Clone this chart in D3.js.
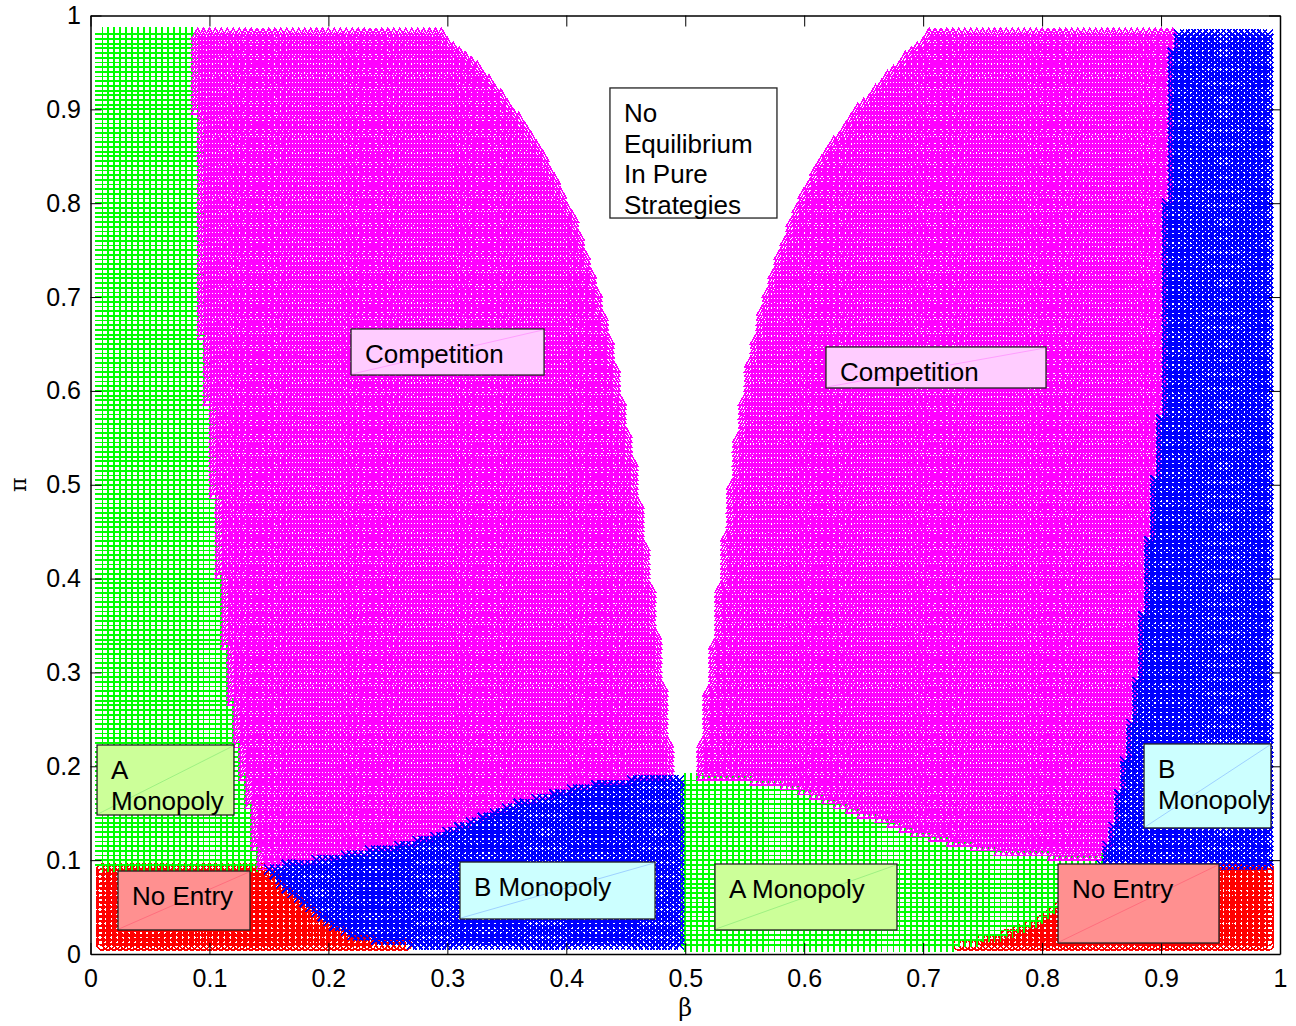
<!DOCTYPE html>
<html><head><meta charset="utf-8">
<script src="https://cdn.jsdelivr.net/npm/d3@7"></script>
<style>body{margin:0;background:#fff}svg{display:block}</style>
</head><body>
<svg id="chart" width="1296" height="1026"></svg>
<script>
// ---------------- DATA ----------------
// parameter grid of the computation (beta, pi)
const betaGridStart = 0.01, betaGridEnd = 0.99, gridStep = 0.005;
const piGridStart = 0.01, piGridEnd = 0.98;

// left "Competition" region, outer edge (pi, beta)
const compLeftOuter = [[0.99,0.087],[0.9,0.090],[0.8,0.092],[0.7,0.094],[0.612,0.096],[0.58,0.101],[0.465,0.106],[0.375,0.112],[0.31,0.116],[0.257,0.121],[0.221,0.125],[0.178,0.131],[0.15,0.136],[0.114,0.140],[0.097,0.143]];
// left "Competition" region, inner edge (pi, beta)
const compLeftInner = [[0.99,0.286],[0.948,0.324],[0.895,0.358],[0.842,0.384],[0.789,0.404],[0.736,0.418],[0.683,0.430],[0.63,0.440],[0.577,0.447],[0.523,0.456],[0.471,0.461],[0.418,0.467],[0.365,0.473],[0.312,0.478],[0.259,0.482],[0.206,0.487],[0.188,0.490]];
// right "Competition" region, inner edge (pi, beta)
const compRightInner = [[0.99,0.713],[0.948,0.679],[0.895,0.641],[0.842,0.612],[0.789,0.592],[0.736,0.577],[0.683,0.564],[0.63,0.555],[0.577,0.548],[0.523,0.542],[0.471,0.537],[0.418,0.532],[0.365,0.528],[0.312,0.523],[0.259,0.518],[0.206,0.513],[0.188,0.512]];
// right "Competition" region, outer edge (pi, beta)
const compRightOuter = [[0.99,0.912],[0.95,0.909],[0.9,0.906],[0.8,0.905],[0.7,0.904],[0.61,0.903],[0.47,0.892],[0.38,0.886],[0.31,0.882],[0.257,0.876],[0.185,0.867],[0.132,0.859],[0.103,0.851]];
// top of the lower "B Monopoly" region (beta, pi)
const blueLeftTop = [[0.143,0.095],[0.151,0.092],[0.27,0.118],[0.31,0.135],[0.36,0.16],[0.41,0.178],[0.45,0.185],[0.49,0.188]];
// top of the lower "A Monopoly" region (beta, pi)
const greenMidTop = [[0.512,0.19],[0.546,0.188],[0.56,0.185],[0.59,0.178],[0.638,0.155],[0.68,0.136],[0.714,0.122],[0.765,0.109],[0.807,0.105],[0.851,0.103]];
// "No Entry" edges (beta, pi)
const redLeftEdge = [[0.145,0.0925],[0.151,0.086],[0.159,0.076],[0.173,0.058],[0.187,0.044],[0.2035,0.029],[0.22,0.02],[0.243,0.014],[0.265,0.0125],[0.27,-0.01]];
const redRightEdge = [[0.725,-0.01],[0.73,0.0125],[0.765,0.0175],[0.79,0.03],[0.81,0.045],[0.828,0.063],[0.84,0.08],[0.848,0.0925]];
const noEntryTop = 0.0925;
const splitBeta = 0.4975;

// ticks
const tickValues = [0,0.1,0.2,0.3,0.4,0.5,0.6,0.7,0.8,0.9,1];
const tickLabels = ["0","0.1","0.2","0.3","0.4","0.5","0.6","0.7","0.8","0.9","1"];
const xLabel = "β", yLabel = "π";

// annotation texts
const annotationTexts = [
  ["Competition"], ["Competition"], ["No","Equilibrium","In Pure","Strategies"],
  ["A","Monopoly"], ["B","Monopoly"], ["No Entry"], ["B Monopoly"], ["A Monopoly"], ["No Entry"]
];

// ---------------- LAYOUT / STYLE ----------------
const annotationLayout = [ // [beta0, beta1, pi0, pi1], fill, diagonal colour
  {box:[0.2190,0.3813,0.6169,0.6660], fill:"#ffccff", diag:"#ff66ff"},
  {box:[0.6183,0.8033,0.6031,0.6468], fill:"#ffccff", diag:"#ff66ff"},
  {box:[0.4367,0.5771,0.7842,0.9228], fill:"#ffffff", diag:null},
  {box:[0.0055,0.1206,0.1481,0.2227], fill:"#ccff99", diag:"#66dd66"},
  {box:[0.8857,0.9924,0.1343,0.2238], fill:"#ccffff", diag:"#6699ff"},
  {box:[0.0231,0.1341,0.0256,0.0884], fill:"#ff9090", diag:"#ff4466"},
  {box:[0.3106,0.4746,0.0373,0.0980], fill:"#ccffff", diag:"#6699ff"},
  {box:[0.5250,0.6780,0.0256,0.0959], fill:"#ccff99", diag:"#66dd66"},
  {box:[0.8134,0.9487,0.0117,0.0959], fill:"#ff9090", diag:"#ff4466"}
];
const FONT = "'Liberation Sans', Arial, Helvetica, sans-serif";
const markerStyle = {
  red:{colour:"#ff0000", width:1.6},
  green:{colour:"#00ff00", width:1.8},
  magenta:{colour:"#ff00ff", width:1.6},
  blue:{colour:"#0000ff", width:1.6}
};

const svg = d3.select("#chart");
const x = d3.scaleLinear().domain([0,1]).range([90.5,1280]);
const y = d3.scaleLinear().domain([0,1]).range([954,15.5]);

// ---- region polygons in data space ([beta, pi]) ----
const bp = a => a.map(([p,b]) => [b,p]);
const magL = [...bp(compLeftOuter), ...blueLeftTop, ...bp(compLeftInner).reverse()];
const magR = [...bp(compRightInner), ...greenMidTop, ...bp(compRightOuter).reverse()];
const blueL = [[0.148,noEntryTop+0.001], ...blueLeftTop.slice(1), [splitBeta,0.19],[splitBeta,-0.01],[0.148,-0.01]];
const blueR = [...bp(compRightOuter), [0.849,noEntryTop],[1.01,noEntryTop],[1.01,0.99]];
const redL = [[-0.01,-0.01],[-0.01,noEntryTop], ...redLeftEdge];
const redR = [...redRightEdge, [1.01,noEntryTop],[1.01,-0.01]];
const notch = [...bp(compLeftInner), ...bp(compRightInner).reverse()];

function classify(b,p){
  const pt=[b,p];
  if (d3.polygonContains(redL,pt)||d3.polygonContains(redR,pt)) return "red";
  if (d3.polygonContains(magL,pt)||d3.polygonContains(magR,pt)) return "magenta";
  if (d3.polygonContains(blueL,pt)||d3.polygonContains(blueR,pt)) return "blue";
  if (d3.polygonContains(notch,pt)) return null;
  return "green";
}

const nB = Math.round((betaGridEnd-betaGridStart)/gridStep);
const nP = Math.round((piGridEnd-piGridStart)/gridStep);
const paths = {red:[],green:[],magenta:[],blue:[]};
const r1 = v => Math.round(v*10)/10;
function marker(kind,px,py){
  px=r1(px); py=r1(py);
  if(kind==="green") return `M${px-7},${py}h14M${px},${py-7}v14`;
  if(kind==="magenta") return `M${px},${py-6}L${px+6},${py+4.5}L${px-6},${py+4.5}Z`;
  if(kind==="blue") return `M${px-5},${py-5}l10,10M${px-5},${py+5}l10,-10`;
  return `M${px+5.5},${py}a5.5,5.5 0 1,0 -11,0a5.5,5.5 0 1,0 11,0`;
}
for(let i=0;i<=nB;i++){
  const b = betaGridStart + i*gridStep;
  for(let j=0;j<=nP;j++){
    const p = piGridStart + j*gridStep;
    const c = classify(b,p);
    if(c) paths[c].push(marker(c,x(b),y(p)));
  }
}
const gMarks = svg.append("g");
["red","green","magenta","blue"].forEach(k=>{
  gMarks.append("path").attr("d",paths[k].join("")).attr("fill","none")
    .attr("stroke",markerStyle[k].colour).attr("stroke-width",markerStyle[k].width)
    .attr("shape-rendering","crispEdges");
});

// ---- axes ----
const fmt = (d,i)=>tickLabels[i];
function styleAxis(g){
  g.selectAll(".domain").attr("stroke","#000").attr("stroke-width",1.5);
  g.selectAll(".tick line").attr("stroke","#000").attr("stroke-width",1);
  g.selectAll("text").attr("font-family",FONT).attr("font-size",25).attr("fill","#000");
}
svg.append("g").attr("transform",`translate(0,${y(0)})`)
  .call(d3.axisBottom(x).tickValues(tickValues).tickFormat(fmt).tickSizeInner(-11).tickSizeOuter(0).tickPadding(15)).call(styleAxis);
svg.append("g").attr("transform",`translate(0,${y(1)})`)
  .call(d3.axisTop(x).tickValues(tickValues).tickFormat(()=>"").tickSizeInner(-11).tickSizeOuter(0)).call(styleAxis);
svg.append("g").attr("transform",`translate(${x(0)},0)`)
  .call(d3.axisLeft(y).tickValues(tickValues).tickFormat(fmt).tickSizeInner(-11).tickSizeOuter(0).tickPadding(9.5)).call(styleAxis);
svg.append("g").attr("transform",`translate(${x(1)},0)`)
  .call(d3.axisRight(y).tickValues(tickValues).tickFormat(()=>"").tickSizeInner(-11).tickSizeOuter(0)).call(styleAxis);

svg.append("text").attr("x",x(0.5)).attr("y",1016).attr("text-anchor","middle")
  .attr("font-family","'DejaVu Serif','Liberation Serif',serif").attr("font-size",24).text(xLabel);
svg.append("text").attr("transform",`translate(26,${y(0.5)}) rotate(-90)`).attr("text-anchor","middle")
  .attr("font-family","'DejaVu Serif','Liberation Serif',serif").attr("font-size",22).text(yLabel);

// ---- annotation boxes ----
annotationLayout.forEach((a,i)=>{
  const [b0,b1,p0,p1]=a.box;
  const X0=x(b0), X1=x(b1), Y0=y(p1), Y1=y(p0);
  const g=svg.append("g");
  g.append("rect").attr("x",X0).attr("y",Y0).attr("width",X1-X0).attr("height",Y1-Y0)
    .attr("fill",a.fill).attr("stroke","#222").attr("stroke-width",1.3);
  if(a.diag) g.append("line").attr("x1",X0+1).attr("y1",Y1-1).attr("x2",X1-1).attr("y2",Y0+1)
    .attr("stroke",a.diag).attr("stroke-width",1).attr("stroke-opacity",0.45);
  annotationTexts[i].forEach((t,k)=>{
    g.append("text").attr("x",X0+14).attr("y",Y0+34+k*30.7)
      .attr("font-family",FONT).attr("font-size",26).attr("fill","#000").text(t);
  });
});
</script>
</body></html>
